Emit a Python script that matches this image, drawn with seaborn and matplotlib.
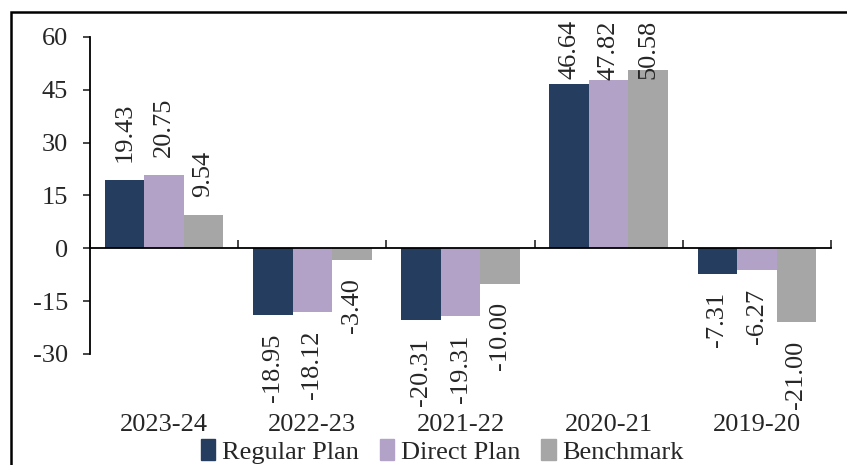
import matplotlib
matplotlib.use("Agg")
import matplotlib.pyplot as plt
from matplotlib.patches import Rectangle
import pandas as pd
import seaborn as sns

periods = ["2023-24", "2022-23", "2021-22", "2020-21", "2019-20"]
regular = [19.43, -18.95, -20.31, 46.64, -7.31]
direct = [20.75, -18.12, -19.31, 47.82, -6.27]
benchmark = [9.54, -3.40, -10.00, 50.58, -21.00]
series = ["Regular Plan", "Direct Plan", "Benchmark"]
colors = ["#253e5f", "#b3a2c8", "#a6a6a6"]
yticks = [-30, -15, 0, 15, 30, 45, 60]

df = pd.DataFrame({
    "period": periods * 3,
    "plan": [s for s in series for _ in periods],
    "value": regular + direct + benchmark,
})

sns.set_style("white")
plt.rcParams["font.family"] = ["Liberation Serif", "DejaVu Serif"]
plt.rcParams["font.size"] = 19
plt.rcParams["axes.unicode_minus"] = False

fig = plt.figure(figsize=(8.47, 4.65), dpi=100)
ax = fig.add_axes([90 / 847, 1 - 354 / 465, (831 - 90) / 847, (354 - 37) / 465])

sns.barplot(data=df, x="period", y="value", hue="plan", order=periods,
            hue_order=series, palette=colors, width=0.8, saturation=1,
            linewidth=0, ax=ax, legend=False)

ax.set_ylim(min(yticks), max(yticks))
ax.set_xlim(-0.5, len(periods) - 0.5)
ax.set_yticks(yticks)
ax.set_xlabel("")
ax.set_ylabel("")
ax.tick_params(axis="y", direction="out", length=5, width=1.2, pad=11, left=True)

# category axis crosses at zero, boundary ticks pointing up
for side in ["top", "right"]:
    ax.spines[side].set_visible(False)
ax.spines["bottom"].set_position(("data", 0))
for side in ["left", "bottom"]:
    ax.spines[side].set_linewidth(1.3)
    ax.spines[side].set_color("black")
ax.set_xticks([i - 0.5 for i in range(len(periods) + 1)])
ax.set_xticklabels([])
ax.tick_params(axis="x", direction="in", length=6, width=1.2, bottom=True)

sec = ax.secondary_xaxis("bottom")
sec.set_xticks(range(len(periods)), periods)
sec.tick_params(length=0, pad=43)
sec.spines["bottom"].set_visible(False)

# value labels
labels = []
for cont in ax.containers:
    for bar in cont:
        v = bar.get_height()
        x = bar.get_x() + bar.get_width() / 2
        t = ax.annotate(f"{v:.2f}", xy=(x, v), xytext=(0, 13 if v >= 0 else -13),
                        textcoords="offset points", rotation=90, ha="center",
                        va="bottom" if v >= 0 else "top", annotation_clip=False)
        labels.append(t)

fig.canvas.draw()
limit = fig.bbox.height - 20
for t in labels:
    bb = t.get_window_extent()
    if bb.y1 > limit:
        dx, dy = t.xyann
        t.xyann = (dx, dy - (bb.y1 - limit) * 72 / fig.dpi)

handles = [Rectangle((0, 0), 1, 1, color=c) for c in colors]
fig.legend(handles, series, loc="center", bbox_to_anchor=(0.522, 0.03), ncol=3,
           frameon=False, handlelength=0.55, handleheight=0.9, handletextpad=0.25,
           columnspacing=0.8, borderaxespad=0, borderpad=0)

# outer frame of the chart object
fig.patches.append(Rectangle((11 / 847, -0.2), 1.2, 1.2 - 12 / 465, transform=fig.transFigure,
                             fill=False, edgecolor="black", linewidth=1.8, clip_on=False))

fig.savefig("out.png", dpi=100)
